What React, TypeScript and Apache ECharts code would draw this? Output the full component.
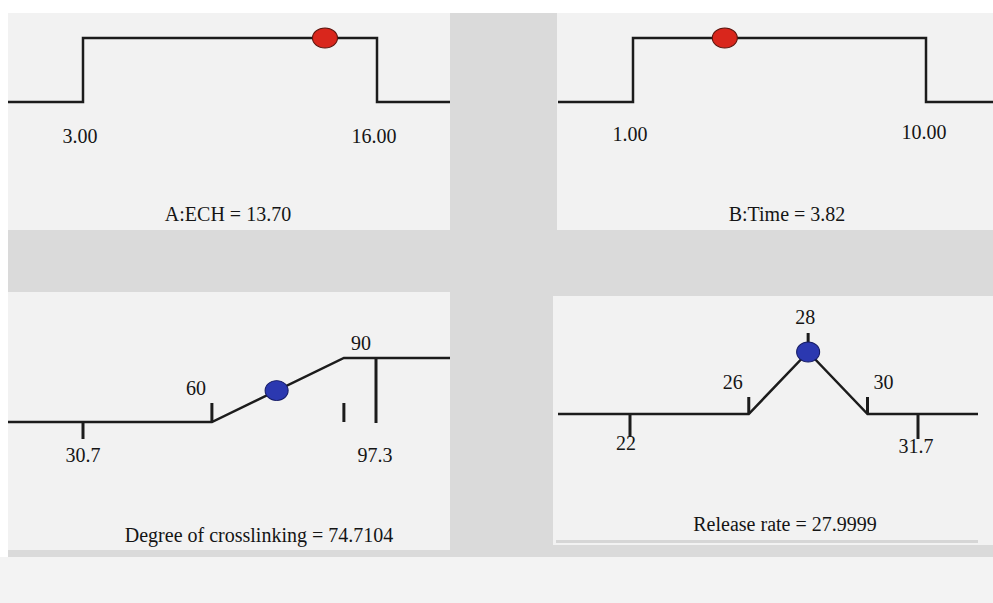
import React, { useEffect, useRef } from "react";
import * as echarts from "echarts";

// ---------- data ----------
// Panel A: ECH
const echLimits = [3, 16];
const echTickLabels = ["3.00", "16.00"];
const echValue = 13.7;
const echDesirability = 1;
// Panel B: Time
const timeLimits = [1, 10];
const timeTickLabels = ["1.00", "10.00"];
const timeValue = 3.82;
const timeDesirability = 1;
// Panel C: Degree of crosslinking
const crossTicks = [30.7, 60, 90, 97.3];
const crossTickLabels = ["30.7", "60", "90", "97.3"];
const crossRamp = [
  [30.7, 0],
  [60, 0],
  [90, 1],
  [97.3, 1],
];
const crossValue = 74.7104;
const crossDesirability = 0.4904;
// Panel D: Release rate
const releaseTicks = [22, 26, 28, 30, 31.7];
const releaseTickLabels = ["22", "26", "28", "30", "31.7"];
const releaseRamp = [
  [22, 0],
  [26, 0],
  [28, 1],
  [30, 0],
  [31.7, 0],
];
const releaseValue = 27.9999;
const releaseDesirability = 1;

// ---------- styling ----------
const FONT = '"Liberation Serif", "Times New Roman", serif';
const INK = "#1c1c1c";
const TEXT = "#151515";
const PANEL_BG = "#f2f2f2";
const GREY = "#dadada";
const DOT_PATH = "path://M0,10A10,10,0,1,1,20,10A10,10,0,1,1,0,10Z";

type TickLayout = { base: number; len: number; lx: number; ly: number };

type PanelCfg = {
  rect: { x: number; y: number; w: number; h: number };
  lineX: [number, number];
  xAnchor: [number, number, number, number]; // v0, p0, v1, p1
  yAnchor: [number, number]; // pixel of desirability 0, pixel of desirability 1
  ramp: number[][];
  ticks: number[];
  tickLabels: string[];
  tickLayout: TickLayout[];
  dot: [number, number];
  dotColor: string;
  dotBorder: string;
  dotSize: [number, number];
  title: string;
  titlePos: [number, number];
};

const panels: PanelCfg[] = [
  {
    rect: { x: 8, y: 13, w: 442, h: 217 },
    lineX: [8, 450],
    xAnchor: [echLimits[0], 83, echLimits[1], 377],
    yAnchor: [102, 38],
    ramp: [
      [echLimits[0], 0],
      [echLimits[0], 1],
      [echLimits[1], 1],
      [echLimits[1], 0],
    ],
    ticks: echLimits,
    tickLabels: echTickLabels,
    tickLayout: [
      { base: 0, len: 0, lx: -3, ly: 34 },
      { base: 0, len: 0, lx: -3, ly: 34 },
    ],
    dot: [echValue, echDesirability],
    dotColor: "#d9261c",
    dotBorder: "#5e150e",
    dotSize: [25, 20],
    title: `A:ECH = ${echValue.toFixed(2)}`,
    titlePos: [228, 214],
  },
  {
    rect: { x: 557, y: 13, w: 436, h: 217 },
    lineX: [558, 993],
    xAnchor: [timeLimits[0], 633, timeLimits[1], 926],
    yAnchor: [102, 38],
    ramp: [
      [timeLimits[0], 0],
      [timeLimits[0], 1],
      [timeLimits[1], 1],
      [timeLimits[1], 0],
    ],
    ticks: timeLimits,
    tickLabels: timeTickLabels,
    tickLayout: [
      { base: 0, len: 0, lx: -3, ly: 32 },
      { base: 0, len: 0, lx: -2, ly: 30 },
    ],
    dot: [timeValue, timeDesirability],
    dotColor: "#d9261c",
    dotBorder: "#5e150e",
    dotSize: [25, 20],
    title: `B:Time = ${timeValue.toFixed(2)}`,
    titlePos: [787, 214],
  },
  {
    rect: { x: 8, y: 292, w: 442, h: 258 },
    lineX: [8, 450],
    xAnchor: [crossTicks[0], 83, crossTicks[3], 376],
    yAnchor: [422, 358],
    ramp: crossRamp,
    ticks: crossTicks,
    tickLabels: crossTickLabels,
    tickLayout: [
      { base: 0, len: 17, lx: 0, ly: 33 },
      { base: 0, len: -19, lx: -16, ly: -34 },
      { base: 0, len: -19, lx: 17, ly: -79 },
      { base: 1, len: 65, lx: -1, ly: 97 },
    ],
    dot: [crossValue, crossDesirability],
    dotColor: "#2b38b0",
    dotBorder: "#161c66",
    dotSize: [23, 20],
    title: `Degree of crosslinking = ${crossValue.toFixed(4)}`,
    titlePos: [259, 535],
  },
  {
    rect: { x: 553, y: 296, w: 440, h: 249 },
    lineX: [558, 978],
    xAnchor: [releaseTicks[0], 630, releaseTicks[4], 918],
    yAnchor: [414, 352],
    ramp: releaseRamp,
    ticks: releaseTicks,
    tickLabels: releaseTickLabels,
    tickLayout: [
      { base: 0, len: 23, lx: -4, ly: 29 },
      { base: 0, len: -17, lx: -16, ly: -32 },
      { base: 1, len: -19, lx: -3, ly: -35 },
      { base: 0, len: -17, lx: 16, ly: -32 },
      { base: 0, len: 25, lx: -2, ly: 32 },
    ],
    dot: [releaseValue, releaseDesirability],
    dotColor: "#2b38b0",
    dotBorder: "#161c66",
    dotSize: [23, 20],
    title: `Release rate = ${releaseValue.toFixed(4)}`,
    titlePos: [785, 524],
  },
];

function mapRange(v0: number, p0: number, v1: number, p1: number, a: number, b: number) {
  const k = (v1 - v0) / (p1 - p0);
  return [v0 + (a - p0) * k, v0 + (b - p0) * k];
}

function buildOption() {
  const grid: any[] = [];
  const xAxis: any[] = [];
  const yAxis: any[] = [];
  const series: any[] = [];
  const graphic: any[] = [
    { type: "rect", z: -10, shape: { x: 0, y: 0, width: 993, height: 603 }, style: { fill: "#ffffff" } },
    { type: "rect", z: -9, shape: { x: 8, y: 13, width: 985, height: 544 }, style: { fill: GREY } },
    { type: "rect", z: -9, shape: { x: 0, y: 557, width: 993, height: 46 }, style: { fill: "#f3f3f3" } },
  ];

  panels.forEach((p, i) => {
    const [v0, p0, v1, p1] = p.xAnchor;
    const [xmin, xmax] = mapRange(v0, p0, v1, p1, p.lineX[0], p.lineX[1]);
    const [ymax, ymin] = mapRange(0, p.yAnchor[0], 1, p.yAnchor[1], p.rect.y, p.rect.y + p.rect.h);
    grid.push({
      left: p.lineX[0],
      width: p.lineX[1] - p.lineX[0],
      top: p.rect.y,
      height: p.rect.h,
      containLabel: false,
    });
    xAxis.push({ type: "value", gridIndex: i, min: xmin, max: xmax, show: false, splitLine: { show: false } });
    yAxis.push({ type: "value", gridIndex: i, min: ymin, max: ymax, show: false, splitLine: { show: false } });

    graphic.push({
      type: "rect",
      z: -8,
      shape: { x: p.rect.x, y: p.rect.y, width: p.rect.w, height: p.rect.h },
      style: { fill: PANEL_BG },
    });
    graphic.push({
      type: "text",
      z: 10,
      x: p.titlePos[0],
      y: p.titlePos[1],
      style: {
        text: p.title,
        fill: TEXT,
        fontFamily: FONT,
        fontSize: 20,
        align: "center",
        verticalAlign: "middle",
        textAlign: "center",
        textVerticalAlign: "middle",
      },
    });

    const first = p.ramp[0];
    const last = p.ramp[p.ramp.length - 1];
    const lineData = [[xmin, first[1]], ...p.ramp, [xmax, last[1]]];
    series.push({
      type: "line",
      xAxisIndex: i,
      yAxisIndex: i,
      data: lineData,
      showSymbol: false,
      symbol: "none",
      silent: true,
      lineStyle: { color: INK, width: 2.5, join: "miter" },
      z: 2,
    });

    const layout = p.tickLayout;
    const labels = p.tickLabels;
    series.push({
      type: "custom",
      xAxisIndex: i,
      yAxisIndex: i,
      silent: true,
      z: 3,
      data: p.ticks.map((t, k) => [t, layout[k].base, k]),
      encode: { x: 0, y: 1 },
      renderItem: (_params: any, api: any) => {
        const k = api.value(2);
        const L = layout[k];
        const pt = api.coord([api.value(0), api.value(1)]);
        const children: any[] = [];
        if (L.len !== 0) {
          children.push({
            type: "line",
            shape: { x1: pt[0], y1: pt[1], x2: pt[0], y2: pt[1] + L.len },
            style: { stroke: INK, lineWidth: 3 },
          });
        }
        children.push({
          type: "text",
          x: pt[0] + L.lx,
          y: pt[1] + L.ly,
          style: {
            text: labels[k],
            fill: TEXT,
            fontFamily: FONT,
            fontSize: 20,
            align: "center",
            verticalAlign: "middle",
          },
        });
        return { type: "group", children };
      },
    });

    series.push({
      type: "scatter",
      xAxisIndex: i,
      yAxisIndex: i,
      data: [p.dot],
      symbol: DOT_PATH,
      symbolSize: p.dotSize,
      silent: true,
      z: 5,
      itemStyle: { color: p.dotColor, borderColor: p.dotBorder, borderWidth: 1, opacity: 1 },
    });
  });

  // faint bottom rule inside panel D
  graphic.push({
    type: "rect",
    z: -7,
    shape: { x: 556, y: 540, width: 422, height: 3 },
    style: { fill: "#d6d6d6" },
  });

  return {
    animation: false,
    backgroundColor: "#ffffff",
    grid,
    xAxis,
    yAxis,
    series,
    graphic,
  };
}

export default function App() {
  const ref = useRef<HTMLDivElement>(null);
  useEffect(() => {
    if (!ref.current) return;
    const chart = echarts.init(ref.current, undefined, { renderer: "svg" });
    chart.setOption(buildOption() as any);
    return () => chart.dispose();
  }, []);
  return (
    <div
      ref={ref}
      style={{ position: "fixed", left: 0, top: 0, width: 993, height: 603, background: "#ffffff" }}
    />
  );
}
